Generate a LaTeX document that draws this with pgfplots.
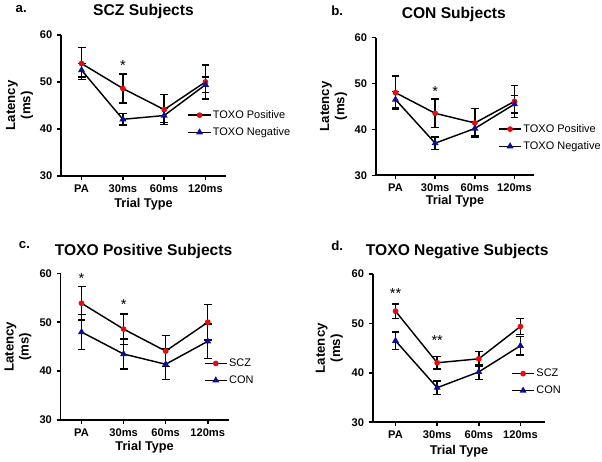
\documentclass[border=0pt]{standalone}
\usepackage{fontspec}
\setmainfont{Liberation Sans}
\usepackage{pgfplots}
\pgfplotsset{compat=1.18}
\usepackage{pgfplotstable}

\definecolor{myred}{RGB}{235,10,10}
\definecolor{myblue}{RGB}{15,15,145}

% SCZ, TOXO positive
\pgfplotstableread{
x y e
0 53.9 3.4
1 48.6 3.1
2 44.1 3.2
3 50.0 3.6
}\sczpos
% SCZ, TOXO negative
\pgfplotstableread{
x y e
0 52.5 1.45
1 42.05 1.25
2 42.85 1.45
3 49.4 1.6
}\sczneg
% CON, TOXO positive
\pgfplotstableread{
x y e
0 48.0 3.6
1 43.5 3.1
2 41.4 3.1
3 46.1 3.5
}\conpos
% CON, TOXO negative
\pgfplotstableread{
x y e
0 46.5 1.8
1 37.0 1.35
2 40.2 1.55
3 45.5 1.9
}\conneg

\pgfplotsset{
  panel/.style={
    scale only axis, axis lines=left,
    axis line style={-, line width=1.5pt},
    xmin=-0.5, xmax=3.5, ymin=30, ymax=60,
    xtick={0,1,2,3}, xticklabels={PA,30ms,60ms,120ms},
    ytick={30,40,50,60},
    tick align=outside, major tick length=3pt,
    tick style={black, line width=1.2pt},
    /pgf/number format/assume math mode=true,
    ticklabel style={font=\bfseries\fontsize{8.4}{9.5}\selectfont},
    xlabel style={font=\bfseries\fontsize{9.6}{11}\selectfont},
    ylabel style={font=\bfseries\fontsize{10}{11.5}\selectfont},
    ylabel={Latency\\(ms)},
    xlabel={Trial Type},
    legend style={draw=none, fill=none, font=\fontsize{8.3}{10}\selectfont,
      anchor=west, row sep=3.5pt, inner sep=0pt, nodes={inner sep=1pt}},
    legend cell align=left,
    clip=false,
  },
  redser/.style={black, line width=1.1pt, mark=*, mark size=1.6pt,
    mark options={myred, fill=myred, solid},
    error bars/.cd, y dir=both, y explicit,
    error bar style={black, line width=1.1pt},
    error mark options={black, mark size=3pt, line width=1.1pt, rotate=90}},
  blueser/.style={black, line width=1.1pt, mark=triangle*, mark size=2pt,
    mark options={myblue, fill=myblue, solid},
    error bars/.cd, y dir=both, y explicit,
    error bar style={black, line width=1.1pt},
    error mark options={black, mark size=3pt, line width=1.1pt, rotate=90}},
}

\begin{document}
\begin{tikzpicture}
\path (0,0) rectangle (451.5pt,348pt);

% ---------- a. SCZ ----------
\begin{axis}[panel, at={(44.4pt,215.5pt)}, anchor=south west,
  width=125pt, height=106.8pt,
  ylabel style={align=center, at={(axis description cs:0,0.5)}, anchor=center, yshift=31.3pt},
  xlabel style={at={(axis description cs:0.5,0)}, anchor=center, yshift=-21.3pt},
  legend style={at={(axis description cs:0.765,0.37)}}]
\addplot+[redser] table[x=x,y=y,y error=e]{\sczpos};
\addlegendentry{TOXO Positive}
\addplot+[blueser] table[x=x,y=y,y error=e]{\sczneg};
\addlegendentry{TOXO Negative}
\node[anchor=north, inner sep=0, font=\fontsize{11}{12}\selectfont] at (axis cs:1,54.6) {*};
\end{axis}

% ---------- b. CON ----------
\begin{axis}[panel, at={(282.5pt,216pt)}, anchor=south west,
  width=120pt, height=104.25pt,
  ylabel style={align=center, at={(axis description cs:0,0.5)}, anchor=center, yshift=31.9pt},
  xlabel style={at={(axis description cs:0.5,0)}, anchor=center, yshift=-19.3pt},
  legend style={at={(axis description cs:0.77,0.273)}}]
\addplot+[redser] table[x=x,y=y,y error=e]{\conpos};
\addlegendentry{TOXO Positive}
\addplot+[blueser] table[x=x,y=y,y error=e]{\conneg};
\addlegendentry{TOXO Negative}
\node[anchor=north, inner sep=0, font=\fontsize{11}{12}\selectfont] at (axis cs:1,49.5) {*};
\end{axis}

% ---------- c. TOXO positive ----------
\begin{axis}[panel, at={(44.1pt,31.0pt)}, anchor=south west,
  width=127.3pt, height=110.8pt,
  ylabel style={align=center, at={(axis description cs:0,0.5)}, anchor=center, yshift=32.2pt},
  xlabel style={at={(axis description cs:0.5,0)}, anchor=center, yshift=-21pt},
  legend style={at={(axis description cs:0.85,0.328)}}]
\addplot+[redser] table[x=x,y=y,y error=e]{\sczpos};
\addlegendentry{SCZ}
\addplot+[blueser] table[x=x,y=y,y error=e]{\conpos};
\addlegendentry{CON}
\node[anchor=north, inner sep=0, font=\fontsize{11}{12}\selectfont] at (axis cs:0,60.05) {*};
\node[anchor=north, inner sep=0, font=\fontsize{11}{12}\selectfont] at (axis cs:1,54.8) {*};
\end{axis}

% ---------- d. TOXO negative ----------
\begin{axis}[panel, at={(280.2pt,29.25pt)}, anchor=south west,
  xmin=-0.55, xmax=3.6,
  width=130.7pt, height=112pt,
  ylabel style={align=center, at={(axis description cs:0,0.5)}, anchor=center, yshift=32.7pt},
  xlabel style={at={(axis description cs:0.5,0)}, anchor=center, yshift=-21.75pt},
  legend style={at={(axis description cs:0.80,0.271)}}]
\addplot+[redser] table[x=x,y=y,y error=e]{\sczneg};
\addlegendentry{SCZ}
\addplot+[blueser] table[x=x,y=y,y error=e]{\conneg};
\addlegendentry{CON}
\node[anchor=north, inner sep=0, font=\fontsize{11}{12}\selectfont] at (axis cs:0,57.25) {**};
\node[anchor=north, inner sep=0, font=\fontsize{11}{12}\selectfont] at (axis cs:1,47.55) {**};
\end{axis}

% titles and panel letters
\node[anchor=base, font=\bfseries\fontsize{11.8}{13.5}\selectfont] at (106.9pt,336.75pt) {SCZ Subjects};
\node[anchor=base, font=\bfseries\fontsize{11.8}{13.5}\selectfont] at (341.6pt,334.3pt) {CON Subjects};
\node[anchor=base, font=\bfseries\fontsize{11.8}{13.5}\selectfont] at (106.9pt,155.5pt) {TOXO Positive Subjects};
\node[anchor=base, font=\bfseries\fontsize{11.8}{13.5}\selectfont] at (344.25pt,155.0pt) {TOXO Negative Subjects};
\node[anchor=base west, inner sep=0, font=\bfseries\fontsize{10}{12}\selectfont] at (10pt,339.25pt) {a.};
\node[anchor=base west, inner sep=0, font=\bfseries\fontsize{10}{12}\selectfont] at (248.8pt,336.75pt) {b.};
\node[anchor=base west, inner sep=0, font=\bfseries\fontsize{10}{12}\selectfont] at (12.5pt,160.5pt) {c.};
\node[anchor=base west, inner sep=0, font=\bfseries\fontsize{10}{12}\selectfont] at (248.8pt,159.25pt) {d.};
\end{tikzpicture}
\end{document}
